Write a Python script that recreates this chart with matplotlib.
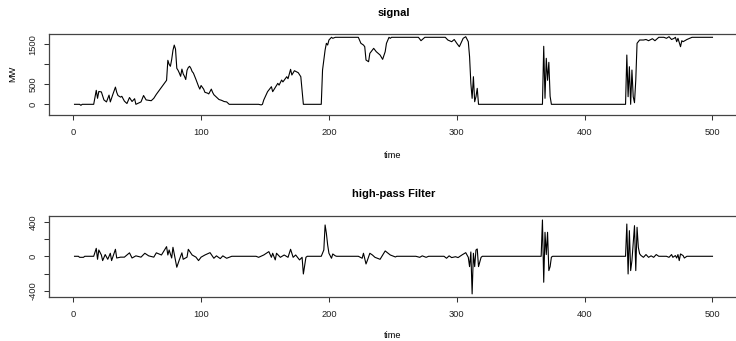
import matplotlib
matplotlib.use("Agg")
import matplotlib.pyplot as plt

plt.rcParams['font.family'] = ['Liberation Sans', 'DejaVu Sans']

# ---- data ----
sig_time = [1, 5, 6, 7, 16, 18, 19, 20, 22, 24, 26, 28, 29, 31, 33, 34, 35, 37, 38, 40,
            42, 44, 46, 48, 49, 51, 53, 55, 57, 59, 61, 63, 65, 68, 70, 73, 74, 75, 76, 77,
            78, 79, 80, 81, 82, 83, 84, 85, 86, 87, 88, 89, 90, 91, 92, 93, 94, 96, 98, 99,
            100, 102, 103, 105, 106, 108, 109, 110, 112, 114, 116, 118, 120, 122, 145, 147, 148, 149, 152, 155,
            156, 158, 160, 161, 163, 164, 167, 168, 170, 171, 173, 176, 178, 180, 194, 195, 197, 198, 199, 200,
            202, 203, 205, 223, 225, 227, 228, 229, 231, 232, 235, 237, 240, 242, 244, 245, 247, 248, 249, 270,
            272, 275, 291, 293, 296, 298, 300, 302, 305, 307, 309, 310, 311, 312, 313, 314, 315, 316, 317, 367,
            368, 369, 370, 371, 372, 373, 374, 432, 433, 434, 435, 436, 437, 438, 439, 440, 441, 442, 443, 446,
            448, 450, 453, 455, 458, 462, 464, 466, 468, 470, 471, 472, 473, 475, 476, 477, 480, 484, 500]
sig_mw = [0, 0, -25, 0, 0, 350, 150, 320, 310, 110, 60, 230, 60, 250, 430, 300, 220, 180, 200, 80,
          20, 170, 70, 140, 0, 30, 60, 220, 110, 100, 90, 150, 250, 380, 470, 600, 1100, 1000, 950, 1120,
          1350, 1480, 1380, 900, 850, 780, 700, 880, 760, 700, 620, 850, 920, 950, 900, 820, 780, 620, 450, 380,
          470, 380, 300, 280, 260, 380, 300, 240, 180, 120, 100, 70, 60, 0, 0, -15, 0, 107, 316, 440,
          316, 420, 524, 480, 607, 560, 690, 640, 874, 732, 840, 790, 690, 0, 0, 857, 1357, 1525, 1482, 1607,
          1675, 1650, 1675, 1675, 1525, 1482, 1440, 1107, 1065, 1274, 1399, 1316, 1232, 1124, 1316, 1525, 1675, 1650, 1675, 1675,
          1590, 1675, 1675, 1607, 1565, 1620, 1525, 1440, 1650, 1690, 1565, 1190, 524, 149, 690, 65, 190, 399, 0, 0,
          1450, 150, 1150, 600, 1050, 200, 0, 0, 1232, 190, 940, 0, 857, 190, 40, 607, 1525, 1565, 1607, 1607,
          1620, 1590, 1640, 1590, 1675, 1675, 1650, 1690, 1620, 1650, 1675, 1565, 1650, 1440, 1590, 1565, 1620, 1675, 1675]

hp_time = [1, 4, 5, 8, 9, 16, 18, 19, 20, 22, 23, 25, 27, 29, 30, 33, 34, 37, 40, 44,
           46, 49, 53, 56, 59, 63, 65, 69, 73, 74, 75, 77, 78, 81, 83, 85, 86, 89, 90, 93,
           96, 98, 100, 103, 107, 110, 112, 115, 117, 120, 124, 143, 145, 149, 153, 155, 156, 158, 159, 162,
           165, 168, 170, 172, 174, 177, 179, 180, 182, 183, 194, 196, 197, 198, 199, 200, 202, 203, 205, 206,
           223, 226, 227, 229, 230, 232, 234, 236, 240, 244, 248, 252, 253, 268, 271, 273, 276, 278, 290, 292,
           294, 296, 299, 301, 304, 307, 309, 310, 311, 312, 313, 314, 315, 316, 317, 319, 320, 366, 367, 368,
           369, 370, 371, 372, 373, 374, 375, 432, 433, 434, 435, 436, 437, 439, 440, 441, 442, 443, 444, 446,
           448, 450, 452, 454, 456, 458, 464, 466, 468, 469, 471, 472, 473, 474, 475, 477, 478, 480, 500]
hp_val = [0, 0, -12, -12, 0, 0, 92, -35, 73, 15, -50, 20, -35, 35, -50, 81, -20, -10, -10, 40,
          -20, 5, -10, 35, 5, -10, 40, 15, 112, 15, 73, -20, 104, -127, -40, 40, -35, -10, 81, 15,
          -10, -50, -10, 15, 42, -23, 5, -27, 5, -23, 0, 0, -12, 15, 54, -12, 35, -42, 35, -12,
          15, -12, 81, -12, 15, -42, -12, -205, -12, 0, 0, 73, 363, 266, 131, 35, -23, 27, 5, 0,
          0, -23, 35, -89, -50, 35, 15, -12, -35, 62, 15, -8, 0, 0, -12, 5, -12, 0, 0, -23,
          5, -15, -5, -15, 15, 42, -12, -120, 50, -436, 35, -120, 73, 85, -120, -12, 0, 0, 421, -301,
          278, 20, 278, -166, -120, -10, 0, 0, 374, -205, 297, -166, -50, 355, -166, 336, 104, 30, 10, -12,
          20, -12, 5, -12, 20, 0, 0, -12, 20, -12, 8, -20, 20, -50, 27, 8, -20, 0, 0]

x_ticks = [0, 100, 200, 300, 400, 500]
sig_yticks = [0, 500, 1000, 1500]
sig_ylabels = ['0', '500', '', '1500']
hp_yticks = [-400, -200, 0, 200, 400]
hp_ylabels = ['-400', '', '0', '', '400']

W, H = 736, 341
fig = plt.figure(figsize=(W / 100, H / 100), dpi=100)

def px_axes(left, top, right, bottom):
    return fig.add_axes([left / W, 1 - bottom / H, (right - left) / W, (bottom - top) / H])

ax1 = px_axes(49, 33.7, 738, 115)
ax2 = px_axes(49, 216, 738, 297)

tick_fs = 6.7
for ax in (ax1, ax2):
    ax.set_xlim(-18.96, 519.96)
    ax.set_xticks(x_ticks)
    ax.set_xticklabels([str(v) for v in x_ticks])
    ax.tick_params(axis='both', direction='out', length=3.6, width=0.75,
                   labelsize=tick_fs, color='#333333', labelcolor='#222222')
    ax.tick_params(axis='x', pad=6)
    ax.tick_params(axis='y', pad=4.5)
    for s in ax.spines.values():
        s.set_linewidth(0.9)
        s.set_color('#444444')

ax1.plot(sig_time, sig_mw, color='black', lw=0.8)
ax1.set_ylim(-267, 1765)
ax1.set_yticks(sig_yticks)
ax1.set_yticklabels(sig_ylabels, rotation=90, va='center')

ax2.plot(hp_time, hp_val, color='black', lw=0.8)
ax2.set_ylim(-472, 467)
ax2.set_yticks(hp_yticks)
ax2.set_yticklabels(hp_ylabels, rotation=90, va='center')

fig.text(393.5 / W, 1 - 13.3 / H, 'signal', ha='center', va='center',
         fontsize=8, fontweight='bold')
fig.text(393.5 / W, 1 - 194.3 / H, 'high-pass Filter', ha='center', va='center',
         fontsize=8, fontweight='bold')
fig.text(392.7 / W, 1 - 155 / H, 'time', ha='center', va='center', fontsize=tick_fs)
fig.text(392.7 / W, 1 - 335.7 / H, 'time', ha='center', va='center', fontsize=tick_fs)
fig.text(12.3 / W, 1 - 74.3 / H, 'MW', ha='center', va='center', rotation=90, fontsize=tick_fs)

fig.savefig('out.png', dpi=100)
